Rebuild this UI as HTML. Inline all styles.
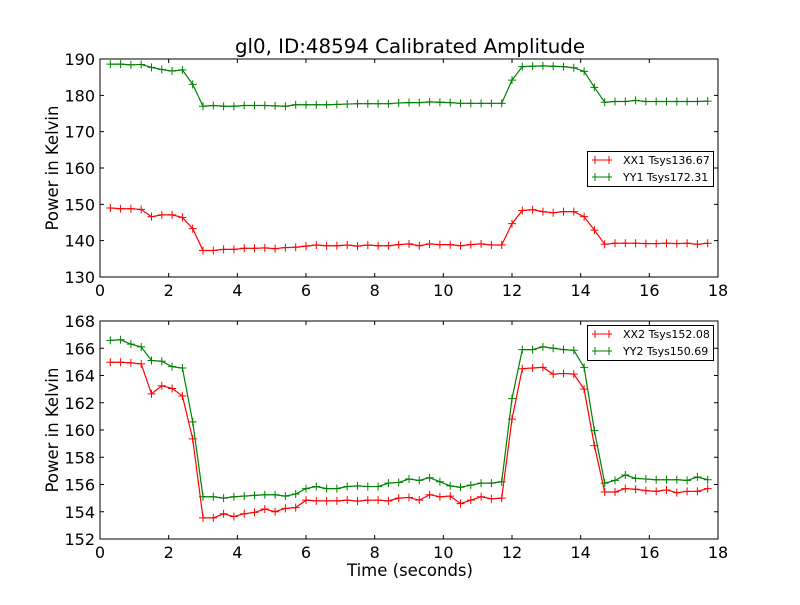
<!DOCTYPE html>
<html><head><meta charset="utf-8"><style>
body{margin:0;background:#fff}
svg text{font-family:"DejaVu Sans","Liberation Sans",sans-serif}
</style></head><body>
<svg id="c" width="800" height="600" viewBox="0 0 800 600" xmlns="http://www.w3.org/2000/svg">
<rect width="800" height="600" fill="#fff"/>
<text x="410" y="53" font-size="19.8" text-anchor="middle">gl0, ID:48594 Calibrated Amplitude</text>
<g id="top"></g>
<g id="bot"></g>
<text x="410" y="576" font-size="16.5" text-anchor="middle">Time (seconds)</text>
</svg>
<script>
const times = [];
for (let k = 1; k <= 59; k++) times.push(+(0.3 * k).toFixed(1));
const xTicks = [0, 2, 4, 6, 8, 10, 12, 14, 16, 18];
const topYTicks = [130, 140, 150, 160, 170, 180, 190];
const botYTicks = [152, 154, 156, 158, 160, 162, 164, 166, 168];
const xx1 = [149,148.8,148.8,148.6,146.6,147.1,147.1,146.4,143.3,137.3,137.3,137.6,137.6,137.9,137.9,138,137.8,138.1,138.2,138.5,138.8,138.6,138.6,138.8,138.5,138.8,138.6,138.6,138.9,139.1,138.6,139.1,138.9,138.9,138.6,138.9,139.1,138.8,138.8,144.7,148.3,148.5,148,147.7,148,148,146.6,142.9,139,139.3,139.3,139.3,139.2,139.2,139.3,139.2,139.3,139,139.3];
const yy1 = [188.6,188.6,188.4,188.5,187.7,187.1,186.7,187.0,183,177.0,177.2,177.0,177.0,177.2,177.2,177.2,177.1,177.0,177.4,177.4,177.4,177.4,177.5,177.6,177.7,177.7,177.7,177.7,177.9,178,178,178.2,178.1,178,177.8,177.8,177.8,177.8,177.8,184.2,187.9,188,188.1,188,187.9,187.6,186.6,182.2,178.1,178.3,178.3,178.6,178.3,178.3,178.3,178.3,178.3,178.3,178.4];
const xx2 = [164.97,164.97,164.93,164.85,162.65,163.25,163.05,162.5,159.35,153.55,153.55,153.85,153.65,153.85,153.95,154.2,154.0,154.25,154.3,154.85,154.8,154.8,154.8,154.85,154.78,154.85,154.85,154.8,155.0,155.05,154.85,155.25,155.1,155.15,154.6,154.85,155.1,154.95,155.0,160.8,164.5,164.55,164.6,164.1,164.15,164.1,163.0,158.85,155.45,155.45,155.7,155.65,155.55,155.5,155.6,155.4,155.5,155.5,155.7];
const yy2 = [166.58,166.62,166.3,166.1,165.1,165.05,164.65,164.55,160.6,155.1,155.1,155.0,155.1,155.15,155.2,155.25,155.25,155.15,155.3,155.7,155.85,155.7,155.7,155.85,155.9,155.85,155.85,156.1,156.15,156.4,156.3,156.5,156.2,155.9,155.8,155.95,156.1,156.1,156.2,162.3,165.9,165.9,166.1,166.0,165.9,165.85,164.6,159.95,156.1,156.3,156.7,156.45,156.4,156.35,156.35,156.35,156.3,156.55,156.35];

const NS = 'http://www.w3.org/2000/svg';
function mk(parent, tag, attrs) {
  const e = document.createElementNS(NS, tag);
  for (const k in attrs) e.setAttribute(k, attrs[k]);
  parent.appendChild(e);
  return e;
}
const L = 100, R = 718;
const sx = v => L + (v - 0) / 18 * (R - L);

function panel(g, top, bottom, ymin, ymax, yTicks, series, legend) {
  const sy = v => bottom - (v - ymin) / (ymax - ymin) * (bottom - top);
  series.forEach(s => {
    const pts = times.map((t, i) => sx(t).toFixed(2) + ',' + sy(s.vals[i]).toFixed(2)).join(' ');
    const line = mk(g, 'polyline', {points: pts, fill: 'none', stroke: s.color, 'stroke-width': 1.2});
    
    
    times.forEach((t, i) => {
      const x = sx(t), y = sy(s.vals[i]);
      const m = mk(g, 'path', {d: `M${x-4},${y}H${x+4}M${x},${y-4}V${y+4}`, stroke: s.color, 'stroke-width': 1});
      
      
    });
  });
  const fr = mk(g, 'rect', {x: L, y: top, width: R - L, height: bottom - top, fill: 'none', stroke: '#000', 'stroke-width': 1});
  
  
  xTicks.forEach(t => {
    const x = sx(t);
    mk(g, 'path', {d: `M${x},${bottom}v-4M${x},${top}v4`, stroke: '#000'});
    const tx = mk(g, 'text', {x: x, y: bottom + 19, 'font-size': 16, 'text-anchor': 'middle'});
    tx.textContent = t;
    
    
  });
  yTicks.forEach(t => {
    const y = sy(t);
    mk(g, 'path', {d: `M${L},${y}h4M${R},${y}h-4`, stroke: '#000'});
    const tx = mk(g, 'text', {x: L - 5, y: y + 6, 'font-size': 16, 'text-anchor': 'end'});
    tx.textContent = t;
    
    
  });
  const yl = mk(g, 'text', {x: 0, y: 0, 'font-size': 16.5, 'text-anchor': 'middle', transform: `translate(58,${(top+bottom)/2}) rotate(-90)`});
  yl.textContent = 'Power in Kelvin';
  
  
  const lg = mk(g, 'g', {});
  
  
  mk(lg, 'rect', {x: 587.5, y: legend.y + 0.5, width: 126, height: 35, fill: '#fff', stroke: '#000', 'stroke-width': 1});
  series.forEach((s, i) => {
    const y = legend.y + 9 + i * 17;
    mk(lg, 'path', {d: `M592,${y}H612M595,${y-4}v8M609,${y-4}v8`, stroke: s.color, 'stroke-width': 1});
    const tx = mk(lg, 'text', {x: 623, y: y + 4, 'font-size': 11});
    tx.textContent = s.label;
    
    
  });
}
panel(document.getElementById('top'), 59, 277, 130, 190, topYTicks,
  [{vals: xx1, color: '#ff0000', name: 'xx1', label: 'XX1 Tsys136.67'},
   {vals: yy1, color: '#008000', name: 'yy1', label: 'YY1 Tsys172.31'}], {y: 151});
panel(document.getElementById('bot'), 321, 539, 152, 168, botYTicks,
  [{vals: xx2, color: '#ff0000', name: 'xx2', label: 'XX2 Tsys152.08'},
   {vals: yy2, color: '#008000', name: 'yy2', label: 'YY2 Tsys150.69'}], {y: 325});
</script>
</body></html>
